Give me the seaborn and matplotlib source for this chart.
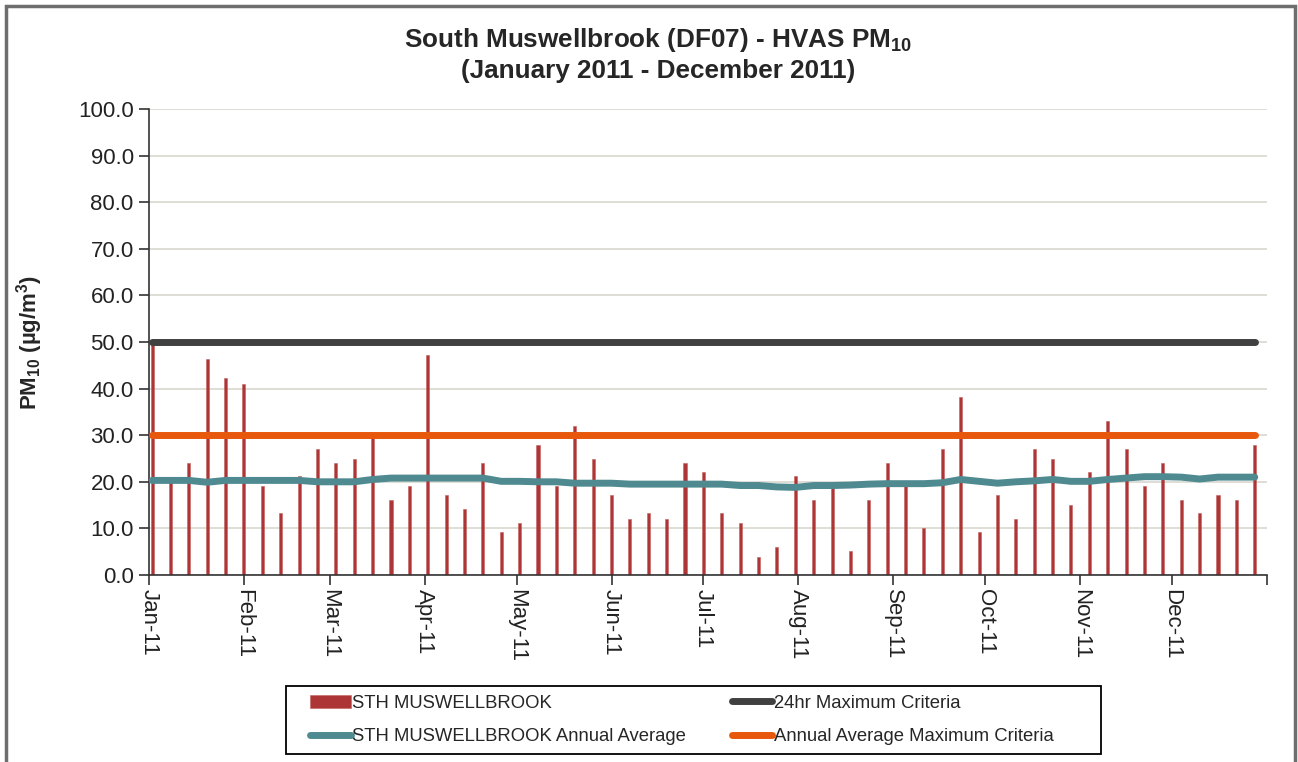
import pandas as pd
import numpy as np
import matplotlib
matplotlib.use("Agg")
import matplotlib.pyplot as plt
from matplotlib.patches import Rectangle
import seaborn as sns

# ── Data (HVAS samples, every 6th day) ─────────────────────────────────────────
SAMPLE_DATES = pd.date_range("2011-01-02", periods=61, freq="6D")

PM10 = [49.5, 20.0, 24.0, 46.3, 42.2, 41.0, 19.1, 13.2, 21.2, 27.1,
        24.0, 25.0, 29.6, 16.0, 19.1, 47.2, 17.2, 14.1, 24.0, 9.2,
        11.1, 28.0, 19.1, 32.0, 25.0, 17.2, 12.0, 13.2, 12.0, 24.0,
        22.2, 13.2, 11.1, 3.9, 6.1, 21.2, 16.0, 18.8, 5.2, 16.0,
        24.0, 19.4, 10.1, 27.1, 38.3, 9.2, 17.2, 12.0, 27.1, 25.0,
        15.1, 22.2, 33.0, 27.1, 19.1, 24.0, 16.0, 13.2, 17.2, 16.0,
        28.0]

ANNUAL_AVG = [20.3, 20.3, 20.3, 19.9, 20.3, 20.3, 20.3, 20.3, 20.3, 20.0,
              20.0, 20.0, 20.5, 20.8, 20.8, 20.8, 20.8, 20.8, 20.8, 20.1,
              20.1, 20.0, 20.0, 19.7, 19.7, 19.7, 19.5, 19.5, 19.5, 19.5,
              19.5, 19.5, 19.2, 19.2, 18.9, 18.8, 19.2, 19.2, 19.3, 19.5,
              19.6, 19.6, 19.6, 19.8, 20.5, 20.1, 19.7, 20.0, 20.2, 20.5,
              20.1, 20.1, 20.5, 20.8, 21.1, 21.1, 21.0, 20.6, 21.0, 21.0,
              21.0]

CRIT_24HR = 50.0
CRIT_ANNUAL = 30.0

MONTH_TICKS = pd.date_range("2011-01-01", "2012-01-01", freq="MS")
MONTH_LABELS = ["Jan-11", "Feb-11", "Mar-11", "Apr-11", "May-11", "Jun-11",
                "Jul-11", "Aug-11", "Sep-11", "Oct-11", "Nov-11", "Dec-11", ""]

df = pd.DataFrame({
    "date": SAMPLE_DATES,
    "pm10": PM10,
    "avg": ANNUAL_AVG,
    "crit24": CRIT_24HR,
    "critann": CRIT_ANNUAL,
})

# ── Style ──────────────────────────────────────────────────────────────────────
sns.set_theme(style="white")
plt.rcParams.update({
    "font.family": ["Liberation Sans", "DejaVu Sans"],
    "mathtext.fontset": "custom",
    "mathtext.rm": "Liberation Sans",
    "mathtext.bf": "Liberation Sans:bold",
    "mathtext.it": "Liberation Sans:italic",
})

BAR_RED = "#AD3535"
TEAL = "#4F8A90"
DARK = "#404040"
ORANGE = "#E8580C"

fig = plt.figure(figsize=(12.98, 7.62), dpi=100)
ax = fig.add_axes([149 / 1298, 1 - 575 / 762, (1267 - 149) / 1298, (575 - 109) / 762])

ax.bar(df["date"], df["pm10"], width=1.0, color=BAR_RED, edgecolor="#C46060",
       linewidth=0.4, label="STH MUSWELLBROOK", zorder=2)
sns.lineplot(data=df, x="date", y="crit24", color=DARK, linewidth=5,
             label="24hr Maximum Criteria", ax=ax, zorder=4)
sns.lineplot(data=df, x="date", y="avg", color=TEAL, linewidth=5,
             label="STH MUSWELLBROOK Annual Average", ax=ax, zorder=3)
sns.lineplot(data=df, x="date", y="critann", color=ORANGE, linewidth=5,
             label="Annual Average Maximum Criteria", ax=ax, zorder=4)

ax.set_xlim(pd.Timestamp("2011-01-01"), pd.Timestamp("2012-01-01"))
ax.set_ylim(0, 100)
ax.set_yticks(np.arange(0, 101, 10))
ax.set_yticklabels([f"{v:.1f}" for v in np.arange(0, 101, 10)], fontsize=16, color="#222222")
ax.set_xticks(MONTH_TICKS)
ax.set_xticklabels(MONTH_LABELS, rotation=270, fontsize=16, color="#222222",
                   ha="center", va="top")
ax.set_xlabel("")
ax.set_ylabel("")

ax.grid(axis="y", color="#D8D8CF", linewidth=1.2, zorder=0)
ax.set_axisbelow(True)
for side in ["top", "right"]:
    ax.spines[side].set_visible(False)
for side in ["left", "bottom"]:
    ax.spines[side].set_color("#333333")
    ax.spines[side].set_linewidth(1.2)
ax.tick_params(axis="both", which="both", direction="out", length=7, width=1.2,
               color="#333333", left=True, bottom=True)
ax.tick_params(axis="y", pad=4)
ax.tick_params(axis="x", pad=3)

# titles
fig.text(658 / 1298, 1 - 40 / 762, r"South Muswellbrook (DF07) - HVAS PM$_{\mathbf{10}}$",
         ha="center", va="center", fontsize=18.8, fontweight="bold")
fig.text(658 / 1298, 1 - 71 / 762, "(January 2011 - December 2011)",
         ha="center", va="center", fontsize=18.8, fontweight="bold")
fig.text(30 / 1298, 1 - 342 / 762, r"PM$_{\mathbf{10}}$ (µg/m$^{\mathbf{3}}$)",
         ha="center", va="center", rotation=90, fontsize=16, fontweight="bold")

# legend (drop seaborn's automatic one, build the boxed one below the axis)
handles, labels = ax.get_legend_handles_labels()
ax.get_legend().remove()
order = ["STH MUSWELLBROOK", "STH MUSWELLBROOK Annual Average",
         "24hr Maximum Criteria", "Annual Average Maximum Criteria"]
hmap = dict(zip(labels, handles))
fig.legend([hmap[k] for k in order], order, ncol=2, loc="center left",
           bbox_to_anchor=(310 / 1298, 1 - 720 / 762), fontsize=13.3,
           frameon=False, borderpad=0, borderaxespad=0,
           handlelength=2.2, handletextpad=0.1, columnspacing=2.45,
           labelspacing=0.9)
fig.patches.append(Rectangle((286 / 1298, 1 - 754 / 762), (1101 - 286) / 1298, 68 / 762,
                             transform=fig.transFigure, fill=False,
                             edgecolor="black", linewidth=1.3))

# outer chart border
fig.patches.append(Rectangle((6 / 1298, -0.05), (1295 - 6) / 1298, 1.05 - 6 / 762,
                             transform=fig.transFigure, fill=False,
                             edgecolor="#6E6E6E", linewidth=2.5))

plt.savefig("out.png", dpi=100)
plt.close()
